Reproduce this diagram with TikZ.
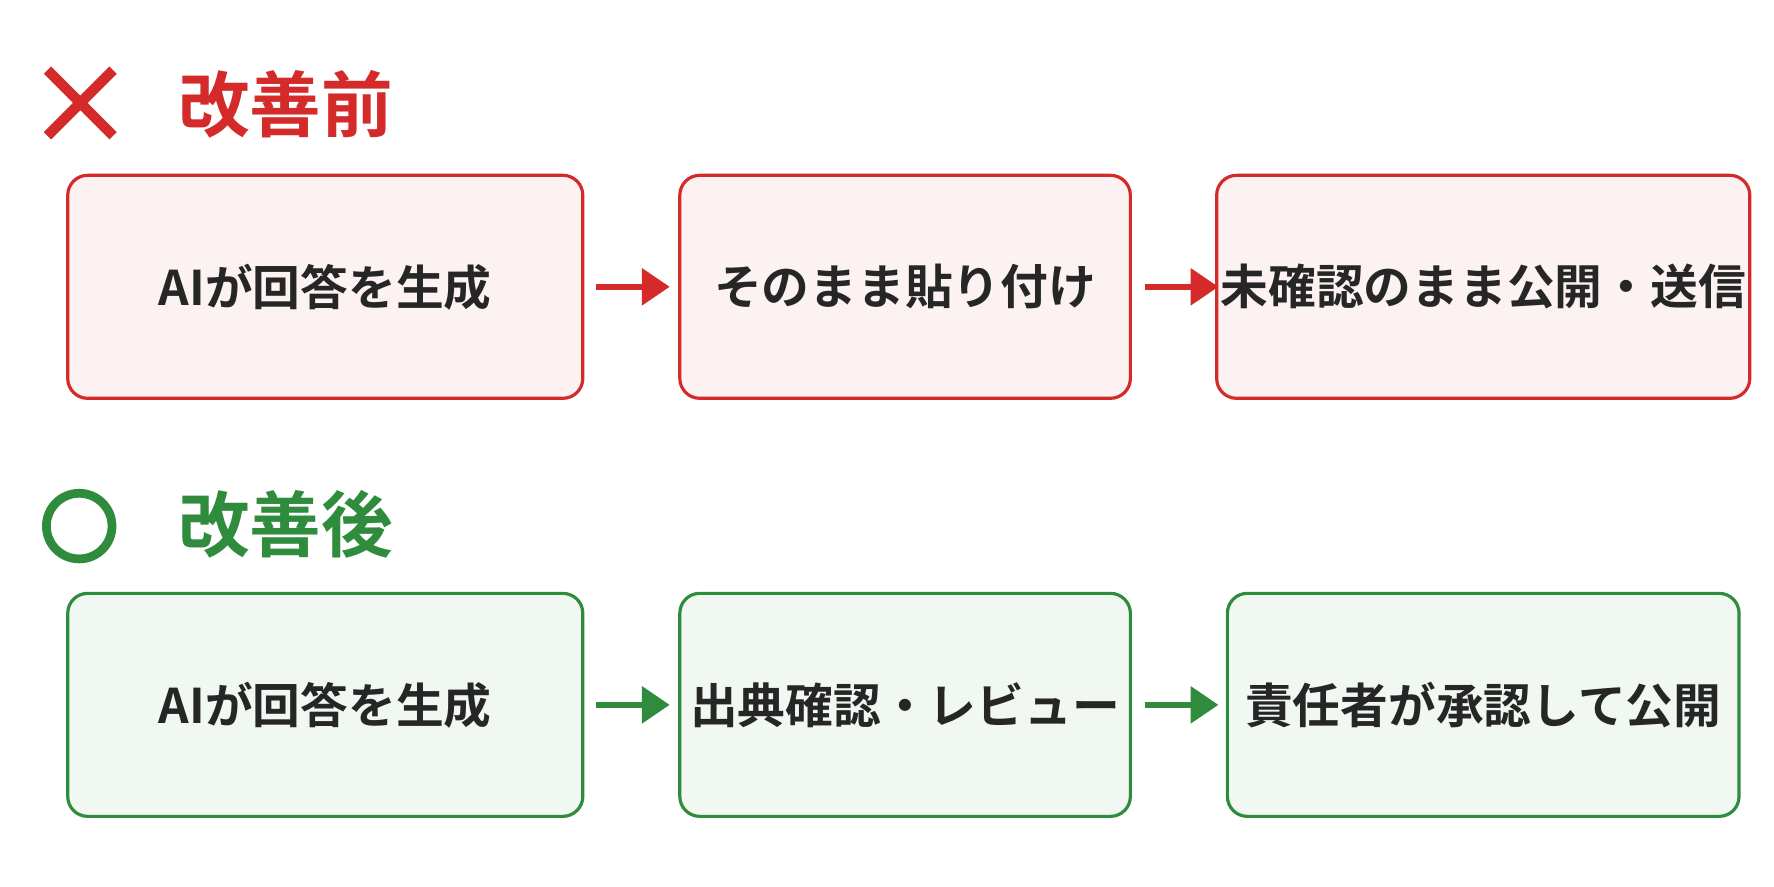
\documentclass[tikz,border=0pt]{standalone}
\usepackage{fontspec}
\setmainfont{Noto Sans CJK JP}[BoldFont={* Bold}]
\usetikzlibrary{arrows.meta,positioning}
\definecolor{ngred}{HTML}{D42A2A}
\definecolor{ngfill}{HTML}{FDF2F2}
\definecolor{okgreen}{HTML}{2E8C3C}
\definecolor{okfill}{HTML}{F1F8F1}
\tikzset{
  flowbox/.style={rounded corners=5pt, line width=0.8pt, minimum height=1.97cm, inner sep=1pt,
    font=\fontsize{12}{14}\selectfont\bfseries, text=black!85},
  ngstep/.style={flowbox, draw=ngred, fill=ngfill},
  okstep/.style={flowbox, draw=okgreen, fill=okfill},
  flow/.style={line width=1.6pt, -{Triangle[length=7pt,width=9pt]}},
  heading/.style={font=\fontsize{18}{22}\selectfont\bfseries, anchor=west}
}
\begin{document}
\begin{tikzpicture}[x=0.01cm,y=-0.01cm]
\useasboundingbox (0,0) rectangle (1568,784);
			% before
			\draw[ngred, line width=2.6pt] (42,62) -- (100,120) (100,62) -- (42,120);
			\node[heading, text=ngred] (ngtitle) at (145,92) {改善前};
			\node[ngstep, minimum width=4.55cm] (ng1) at (287.5,253.5) {AIが回答を生成};
			\node[ngstep, minimum width=3.98cm] (ng2) at (800,253.5) {そのまま貼り付け};
			\node[ngstep, minimum width=4.52cm] (ng3) at (1311,253.5) {未確認のまま公開・送信};
			\draw[flow, ngred] (527,253.5) -- (592,253.5) coordinate (ng12);
			\draw[flow, ngred] (1012,253.5) -- (1077,253.5) coordinate (ng23);
			
			% after
			\draw[okgreen, line width=2.2pt] (70,465) circle (29);
			\node[heading, text=okgreen] (oktitle) at (145,463) {改善後};
			\node[okstep, minimum width=4.55cm] (ok1) at (287.5,623) {AIが回答を生成};
			\node[okstep, minimum width=3.98cm] (ok2) at (800,623) {出典確認・レビュー};
			\node[okstep, minimum width=4.52cm] (ok3) at (1311,623) {責任者が承認して公開};
			\draw[flow, okgreen] (527,623) -- (592,623) coordinate (ok12);
			\draw[flow, okgreen] (1012,623) -- (1077,623) coordinate (ok23);
\end{tikzpicture}
\end{document}
